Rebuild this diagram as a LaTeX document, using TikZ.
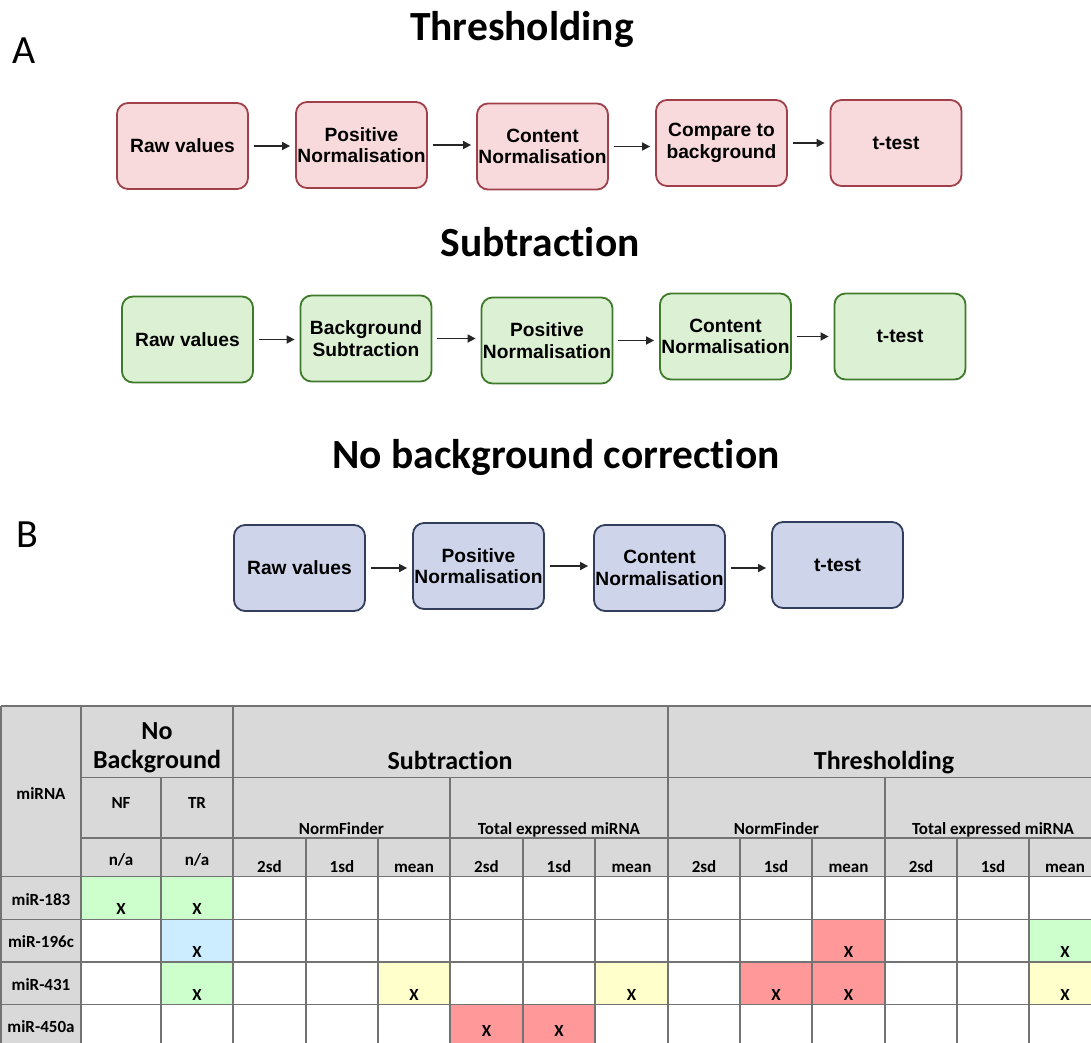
\documentclass[tikz,border=0pt]{standalone}
\usepackage{fontspec}
\setmainfont{Carlito}[Ligatures=NoCommon]
\newfontfamily\boxfont{Liberation Sans}
\usetikzlibrary{arrows.meta,positioning}
\definecolor{thrfill}{HTML}{F8DADC}
\definecolor{thrdraw}{HTML}{A0404A}
\definecolor{subfill}{HTML}{DCF1D4}
\definecolor{subdraw}{HTML}{3F7A2B}
\definecolor{nbfill}{HTML}{CED4EA}
\definecolor{nbdraw}{HTML}{323E5C}
\definecolor{hdrgray}{HTML}{D9D9D9}
\definecolor{cellgreen}{HTML}{CCFFCC}
\definecolor{cellblue}{HTML}{CCECFF}
\definecolor{cellyellow}{HTML}{FFFFCC}
\definecolor{cellred}{HTML}{FF9999}

\begin{document}
\begin{tikzpicture}[x=1pt, y=-1pt,
  stage/.style={draw, rounded corners=11pt, line width=1.8pt,
    minimum width=131pt, minimum height=86pt, inner sep=0pt, align=center,
    font=\boxfont\bfseries\fontsize{19.2}{21.5}\selectfont},
  thr/.style={stage, fill=thrfill, draw=thrdraw},
  sub/.style={stage, fill=subfill, draw=subdraw},
  nobg/.style={stage, fill=nbfill, draw=nbdraw},
  arr/.style={-{Triangle[length=8pt,width=8pt]}, line width=1.6pt,
    black!85, shorten <=5pt, shorten >=5pt},
  title/.style={font=\bfseries\fontsize{41.5}{48}\selectfont, anchor=base},
  panel/.style={font=\fontsize{40}{48}\selectfont, anchor=base west},
  hdr/.style={font=\bfseries\fontsize{17}{19}\selectfont, anchor=base, inner sep=0pt},
  bighdr/.style={font=\bfseries\fontsize{26}{30}\selectfont, anchor=base, inner sep=0pt},
  xmark/.style={hdr},
  grid/.style={draw=black!55, line width=1.3pt},
]
\useasboundingbox (0,0) rectangle (1091,1042);
\clip (0,0) rectangle (1091,1042);

% Panel letters
\node[panel] (pa) at (9,63) {A};
\node[panel] (pb) at (13,547) {B};

% Thresholding pipeline
\node[title] (thrtitle) at (522,40) {Thresholding};
\node[thr] (thr1) at (182.5,146)   {Raw values};
\node[thr] (thr2) at (361.5,145)   {Positive\\Normalisation};
\node[thr] (thr3) at (542.5,146.5) {Content\\Normalisation};
\node[thr] (thr4) at (721.5,143)   {Compare to\\background};
\node[thr] (thr5) at (896,143)     {t-test};
\draw[arr] (thr1.east) -- (thr1.east -| thr2.west);
\draw[arr] (thr2.east) -- (thr2.east -| thr3.west);
\draw[arr] (thr3.east) -- (thr3.east -| thr4.west);
\draw[arr] (thr4.east) -- (thr4.east -| thr5.west);

% Subtraction pipeline
\node[title] (subtitle) at (540,256) {Subtraction};
\node[sub] (sub1) at (187.5,339.5) {Raw values};
\node[sub] (sub2) at (366,338.5)   {Background\\Subtraction};
\node[sub] (sub3) at (547,340.5)   {Positive\\Normalisation};
\node[sub] (sub4) at (725.5,336.5) {Content\\Normalisation};
\node[sub] (sub5) at (900,336.5)   {t-test};
\draw[arr] (sub1.east) -- (sub1.east -| sub2.west);
\draw[arr] (sub2.east) -- (sub2.east -| sub3.west);
\draw[arr] (sub3.east) -- (sub3.east -| sub4.west);
\draw[arr] (sub4.east) -- (sub4.east -| sub5.west);

% No background pipeline
\node[title] (nbtitle) at (556,468) {No background correction};
\node[nobg] (nb1) at (299.5,568) {Raw values};
\node[nobg] (nb2) at (478.5,566) {Positive\\Normalisation};
\node[nobg] (nb3) at (659.5,568) {Content\\Normalisation};
\node[nobg] (nb4) at (837.5,565) {t-test};
\draw[arr] (nb1.east) -- (nb1.east -| nb2.west);
\draw[arr] (nb2.east) -- (nb2.east -| nb3.west);
\draw[arr] (nb3.east) -- (nb3.east -| nb4.west);

% Table: shading
\fill[hdrgray] (1,706) rectangle (1101,876.5);
\fill[hdrgray] (1,876.5) rectangle (81,1047);
\foreach \xa/\xb/\ya/\clr [count=\i] in {
    81/161/876.5/cellgreen, 161/233/876.5/cellgreen,
    161/233/919.5/cellblue, 812/885/919.5/cellred, 1029/1101/919.5/cellgreen,
    161/233/962/cellgreen, 378/450/962/cellyellow, 595/668/962/cellyellow,
    740/812/962/cellred, 812/885/962/cellred, 1029/1101/962/cellyellow,
    450/523/1004.5/cellred, 523/595/1004.5/cellred} {
  \fill[\clr] (\xa,\ya) rectangle (\xb,\ya+42.5);
  \node[xmark] (x\i) at ({(\xa+\xb)/2},{min(\ya+38,1036)}) {X};
}

% Table: rules
\draw[grid] (1,706) -- (1101,706);
\draw[grid] (81,777.5) -- (1101,777.5);
\draw[grid] (81,838) -- (1101,838);
\foreach \y in {876.5,919.5,962,1004.5}
  \draw[grid] (1,\y) -- (1101,\y);
\foreach \x in {1,81,233,668}
  \draw[grid] (\x,706) -- (\x,1047);
\foreach \x in {161,450,885}
  \draw[grid] (\x,777.5) -- (\x,1047);
\foreach \x in {306,378,523,595,740,812,957,1029}
  \draw[grid] (\x,838) -- (\x,1047);

% Table: headers
\node[hdr] (mirna) at (41,799) {miRNA};
\node[bighdr] (nobgA) at (157,739) {No};
\node[bighdr] (nobgB) at (157,768) {Background};
\node[bighdr] (subhdr) at (450,769) {Subtraction};
\node[bighdr] (thrhdr) at (884,769) {Thresholding};
\node[hdr] (nf) at (121,808) {NF};
\node[hdr] (tr) at (197,808) {TR};
\node[hdr] (subnf) at (341.5,834) {NormFinder};
\node[hdr] (subtot) at (559,834) {Total expressed miRNA};
\node[hdr] (thrnf) at (776.5,834) {NormFinder};
\node[hdr] (thrtot) at (993,834) {Total expressed miRNA};
\node[hdr] (nanf) at (121,865) {n/a};
\node[hdr] (natr) at (197,865) {n/a};
\foreach \xa/\xb/\lbl [count=\k] in {233/306/2sd, 306/378/1sd, 378/450/mean,
    450/523/2sd, 523/595/1sd, 595/668/mean, 668/740/2sd, 740/812/1sd,
    812/885/mean, 885/957/2sd, 957/1029/1sd, 1029/1101/mean}
  \node[hdr] (sd\k) at ({(\xa+\xb)/2},872.5) {\lbl};

% Table: miRNA names
\node[hdr] (m183) at (41,905) {miR-183};
\node[hdr] (m196) at (41,947.5) {miR-196c};
\node[hdr] (m431) at (41,990) {miR-431};
\node[hdr] (m450) at (41,1032.5) {miR-450a};
\end{tikzpicture}
\end{document}
